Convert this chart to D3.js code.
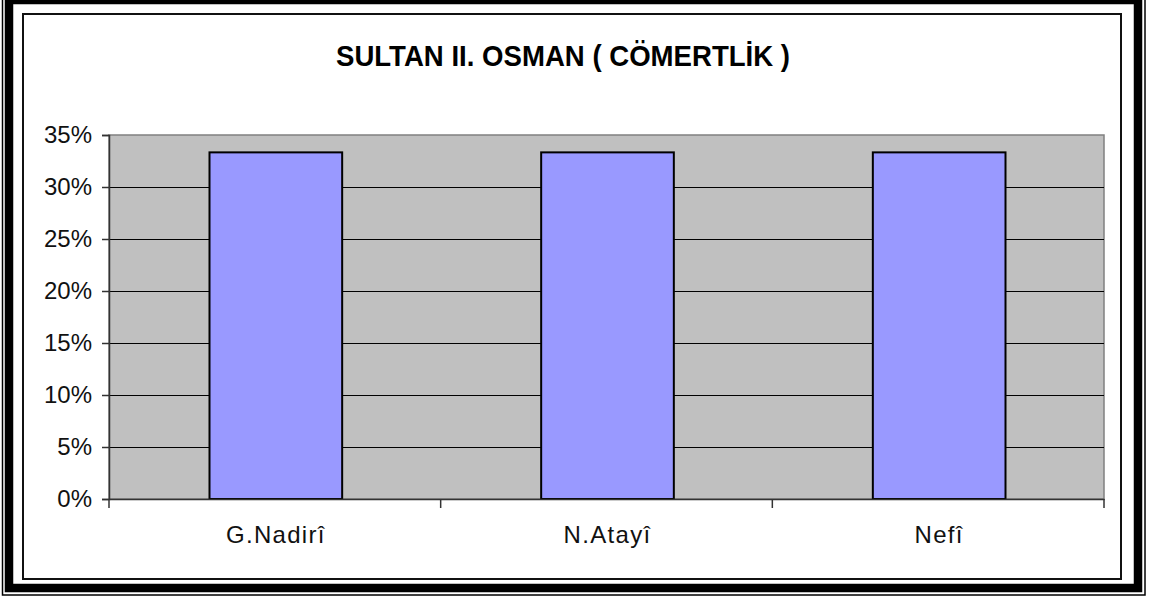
<!DOCTYPE html>
<html><head><meta charset="utf-8">
<script src="https://cdn.jsdelivr.net/npm/d3@7"></script>
<style>html,body{margin:0;padding:0;background:#fff;}svg{display:block;}</style>
</head><body>
<script>
const title = "SULTAN II. OSMAN ( CÖMERTLİK )";
const categories = ["G.Nadirî", "N.Atayî", "Nefî"];
const values = [0.3333, 0.3333, 0.3333];
const yTicks = [0, 0.05, 0.10, 0.15, 0.20, 0.25, 0.30, 0.35];

(function () {
const W = 1150, H = 600;
const svg = d3.select("body").append("svg").attr("width", W).attr("height", H);
svg.append("rect").attr("width", W).attr("height", H).attr("fill", "#fff");

// outer double border
svg.append("rect").attr("x", 2.5).attr("y", -6).attr("width", 1142.5).attr("height", 601)
  .attr("fill", "none").attr("stroke", "#000").attr("stroke-width", 1.5);
svg.append("rect").attr("x", 9).attr("y", 0).attr("width", 1129).attr("height", 588)
  .attr("fill", "none").attr("stroke", "#000").attr("stroke-width", 8.5);
// inner chart frame
svg.append("rect").attr("x", 23).attr("y", 14).attr("width", 1098).attr("height", 565)
  .attr("fill", "#fff").attr("stroke", "#111").attr("stroke-width", 2);

const pl = 109, pr = 1104, pt = 135, pb = 499;
const x = d3.scaleBand().domain(categories).range([pl, pr]).paddingInner(0.6).paddingOuter(0.3);
const xb = d3.scaleBand().domain(categories).range([pl, pr]);
const y = d3.scaleLinear().domain([0, 0.35]).range([pb, pt]);

svg.append("rect").attr("x", pl).attr("y", pt).attr("width", pr - pl).attr("height", pb - pt)
  .attr("fill", "#c0c0c0").attr("stroke", "#808080").attr("stroke-width", 1.5);

// gridlines
svg.append("g").selectAll("line").data(yTicks.filter(d => d > 0 && d < 0.35)).join("line")
  .attr("x1", pl).attr("x2", pr).attr("y1", d => Math.round(y(d)) + 0.5).attr("y2", d => Math.round(y(d)) + 0.5)
  .attr("stroke", "#000").attr("stroke-width", 1);

// bars
svg.append("g").selectAll("rect").data(categories).join("rect")
  .attr("x", d => x(d) + 1).attr("y", (d, i) => y(values[i]))
  .attr("width", x.bandwidth()).attr("height", (d, i) => pb - y(values[i]))
  .attr("fill", "#9999ff").attr("stroke", "#000").attr("stroke-width", 2);

const font = "Liberation Sans, Arial, sans-serif";
// y axis
const yAxis = d3.axisLeft(y).tickValues(yTicks).tickFormat(d3.format(".0%")).tickSize(7).tickPadding(10);
const gy = svg.append("g").attr("transform", `translate(${pl},0)`).call(yAxis);
gy.select(".domain").attr("stroke", "#333").attr("stroke-width", 1.5);
gy.selectAll(".tick line").attr("stroke", "#333").attr("stroke-width", 1.5);
gy.selectAll("text").attr("font-family", font).attr("font-size", 24).attr("fill", "#111");

// x axis
const xAxis = d3.axisBottom(xb).tickSize(0).tickPadding(27);
const gx = svg.append("g").attr("transform", `translate(0,${pb})`).call(xAxis);
gx.select(".domain").attr("stroke", "#333").attr("stroke-width", 1.5);
gx.selectAll("text").attr("font-family", font).attr("font-size", 24).attr("fill", "#111")
  .attr("letter-spacing", 1.3).attr("dx", 1);
// x tick marks at category boundaries
const bounds = [pl].concat(categories.map(c => xb(c) + xb.bandwidth()));
svg.append("g").selectAll("line").data(bounds).join("line")
  .attr("x1", d => d).attr("x2", d => d).attr("y1", pb).attr("y2", pb + 9)
  .attr("stroke", "#333").attr("stroke-width", 1.5);

// title
svg.append("text").attr("x", 563).attr("y", 66).attr("text-anchor", "middle")
  .attr("font-family", font).attr("font-weight", "bold").attr("font-size", 30)
  .attr("textLength", 454).attr("lengthAdjust", "spacingAndGlyphs")
  .text(title);
})();
</script>
</body></html>
